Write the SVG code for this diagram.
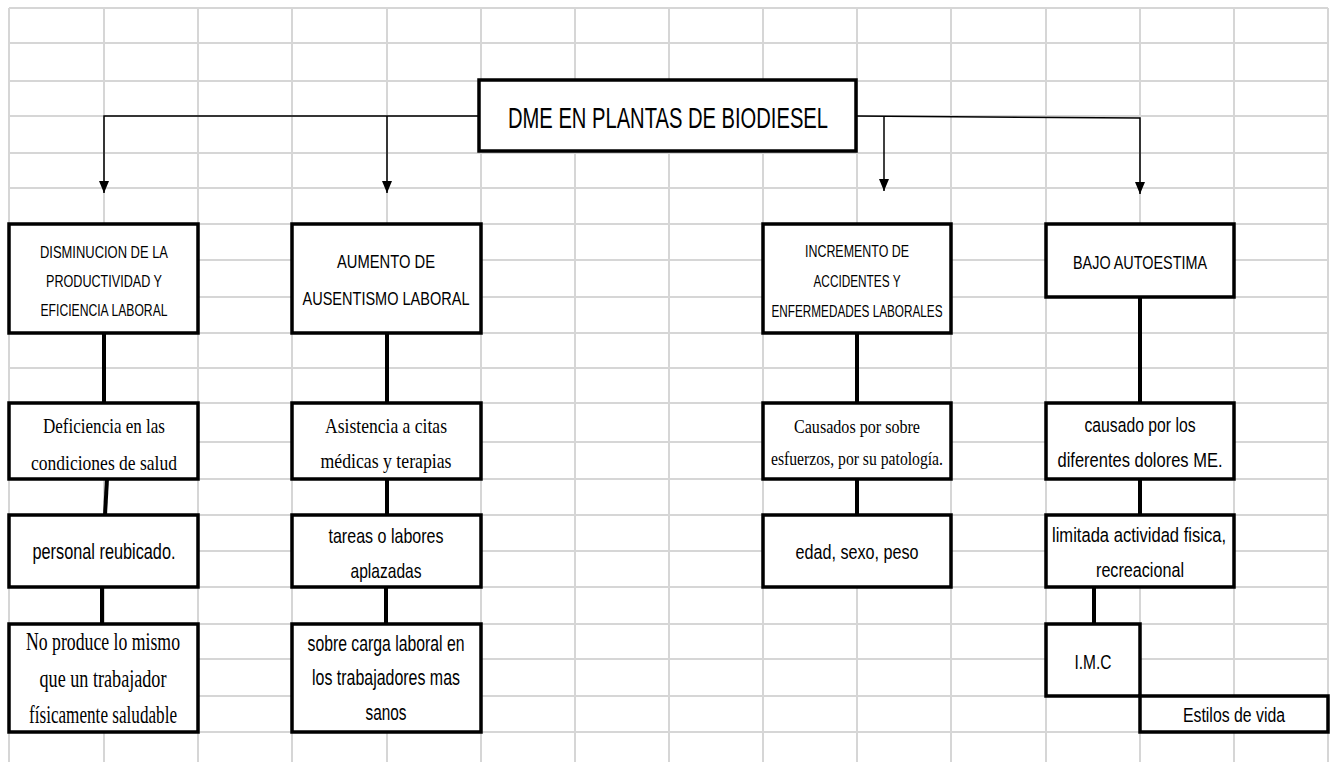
<svg xmlns="http://www.w3.org/2000/svg" width="1331" height="762" viewBox="0 0 1331 762">
<style>
.grid line{stroke:#d6d6d6;stroke-width:2}
.box{fill:#fff;stroke:#000;stroke-width:3.5}
.thin{fill:none;stroke:#000;stroke-width:1.5}
.thick{fill:none;stroke:#000;stroke-width:4}
text{fill:#000;text-anchor:middle}
.s{font-family:"Liberation Sans",Arial,sans-serif}
.t{font-family:"Liberation Serif","Times New Roman",serif}
</style>
<defs>
<marker id="arr" markerUnits="userSpaceOnUse" viewBox="0 0 10 12" refX="5" refY="12" markerWidth="10" markerHeight="12" orient="0">
<path d="M0,0 L10,0 L5,12 z" fill="#000"/>
</marker>
</defs>
<rect width="1331" height="762" fill="#fff"/>
<g class="grid">
<line x1="9" y1="8" x2="9" y2="762"/><line x1="104" y1="8" x2="104" y2="762"/><line x1="198" y1="8" x2="198" y2="762"/><line x1="292" y1="8" x2="292" y2="762"/><line x1="387" y1="8" x2="387" y2="762"/><line x1="481" y1="8" x2="481" y2="762"/><line x1="575" y1="8" x2="575" y2="762"/><line x1="669" y1="8" x2="669" y2="762"/><line x1="763" y1="8" x2="763" y2="762"/><line x1="857" y1="8" x2="857" y2="762"/><line x1="951" y1="8" x2="951" y2="762"/><line x1="1046" y1="8" x2="1046" y2="762"/><line x1="1140" y1="8" x2="1140" y2="762"/><line x1="1234" y1="8" x2="1234" y2="762"/><line x1="1328" y1="8" x2="1328" y2="762"/>
<line x1="9" y1="8" x2="1328" y2="8"/><line x1="9" y1="43" x2="1328" y2="43"/><line x1="9" y1="81" x2="1328" y2="81"/><line x1="9" y1="116" x2="1328" y2="116"/><line x1="9" y1="153" x2="1328" y2="153"/><line x1="9" y1="188" x2="1328" y2="188"/><line x1="9" y1="224" x2="1328" y2="224"/><line x1="9" y1="260" x2="1328" y2="260"/><line x1="9" y1="297" x2="1328" y2="297"/><line x1="9" y1="333" x2="1328" y2="333"/><line x1="9" y1="368" x2="1328" y2="368"/><line x1="9" y1="403" x2="1328" y2="403"/><line x1="9" y1="442" x2="1328" y2="442"/><line x1="9" y1="479" x2="1328" y2="479"/><line x1="9" y1="515" x2="1328" y2="515"/><line x1="9" y1="551" x2="1328" y2="551"/><line x1="9" y1="587" x2="1328" y2="587"/><line x1="9" y1="624" x2="1328" y2="624"/><line x1="9" y1="659" x2="1328" y2="659"/><line x1="9" y1="696" x2="1328" y2="696"/><line x1="9" y1="732" x2="1328" y2="732"/>
</g>
<g id="connectors">
<path class="thin" d="M479,116 H104 V193" marker-end="url(#arr)"/>
<path class="thin" d="M387,116 V193" marker-end="url(#arr)"/>
<path class="thin" d="M856,116 L1140,118 V194" marker-end="url(#arr)"/>
<path class="thin" d="M884,117 V191" marker-end="url(#arr)"/>
<path class="thick" d="M104,333 V403"/>
<path class="thick" d="M387,333 V403"/>
<path class="thick" d="M857,333 V403"/>
<path class="thick" d="M1140,297 V403"/>
<path class="thick" d="M107,479 L105,515"/>
<path class="thick" d="M387,479 V515"/>
<path class="thick" d="M857,479 V515"/>
<path class="thick" d="M1140,479 V515"/>
<path class="thick" d="M102,587 V624"/>
<path class="thick" d="M386,587 V624"/>
<path class="thick" d="M1094,587 V624"/>
</g>
<g id="n-title"><rect class="box" x="479" y="80" width="377" height="71"/>
<text class="s" x="668" y="128" font-size="29" textLength="320" lengthAdjust="spacingAndGlyphs">DME EN PLANTAS DE BIODIESEL</text></g>
<g id="n-disminucion"><rect class="box" x="9" y="224" width="189" height="109"/>
<text class="s" x="104" y="258" font-size="16.5" textLength="128" lengthAdjust="spacingAndGlyphs">DISMINUCION DE LA</text>
<text class="s" x="104" y="287" font-size="16.5" textLength="116" lengthAdjust="spacingAndGlyphs">PRODUCTIVIDAD Y</text>
<text class="s" x="104" y="316" font-size="16.5" textLength="127" lengthAdjust="spacingAndGlyphs">EFICIENCIA LABORAL</text></g>
<g id="n-aumento"><rect class="box" x="292" y="224" width="189" height="109"/>
<text class="s" x="386" y="268" font-size="18" textLength="98" lengthAdjust="spacingAndGlyphs">AUMENTO DE</text>
<text class="s" x="386" y="305" font-size="18" textLength="167" lengthAdjust="spacingAndGlyphs">AUSENTISMO LABORAL</text></g>
<g id="n-incremento"><rect class="box" x="763" y="224" width="188" height="109"/>
<text class="s" x="857" y="257" font-size="16" textLength="104" lengthAdjust="spacingAndGlyphs">INCREMENTO DE</text>
<text class="s" x="857" y="287" font-size="16" textLength="87" lengthAdjust="spacingAndGlyphs">ACCIDENTES Y</text>
<text class="s" x="857" y="317" font-size="16" textLength="171" lengthAdjust="spacingAndGlyphs">ENFERMEDADES LABORALES</text></g>
<g id="n-bajo"><rect class="box" x="1046" y="224" width="188" height="73"/>
<text class="s" x="1140" y="269" font-size="18.5" textLength="134" lengthAdjust="spacingAndGlyphs">BAJO AUTOESTIMA</text></g>
<g id="n-deficiencia"><rect class="box" x="9" y="403" width="189" height="76"/>
<text class="t" x="104" y="433" font-size="22" textLength="122" lengthAdjust="spacingAndGlyphs">Deficiencia en las</text>
<text class="t" x="104" y="470" font-size="22" textLength="146" lengthAdjust="spacingAndGlyphs">condiciones de salud</text></g>
<g id="n-asistencia"><rect class="box" x="292" y="403" width="189" height="76"/>
<text class="t" x="386" y="433" font-size="22" textLength="122" lengthAdjust="spacingAndGlyphs">Asistencia a citas</text>
<text class="t" x="386" y="468" font-size="22" textLength="131" lengthAdjust="spacingAndGlyphs">médicas y terapias</text></g>
<g id="n-causados"><rect class="box" x="763" y="403" width="188" height="76"/>
<text class="t" x="857" y="433" font-size="19.5" textLength="126" lengthAdjust="spacingAndGlyphs">Causados por sobre</text>
<text class="t" x="857" y="465" font-size="19.5" textLength="172" lengthAdjust="spacingAndGlyphs">esfuerzos, por su patología.</text></g>
<g id="n-causado"><rect class="box" x="1046" y="403" width="188" height="76"/>
<text class="s" x="1140" y="432" font-size="20.5" textLength="111" lengthAdjust="spacingAndGlyphs">causado por los</text>
<text class="s" x="1140" y="467" font-size="20.5" textLength="165" lengthAdjust="spacingAndGlyphs">diferentes dolores ME.</text></g>
<g id="n-personal"><rect class="box" x="9" y="515" width="189" height="72"/>
<text class="s" x="104" y="559" font-size="21.5" textLength="143" lengthAdjust="spacingAndGlyphs">personal reubicado.</text></g>
<g id="n-tareas"><rect class="box" x="292" y="515" width="189" height="72"/>
<text class="s" x="386" y="543" font-size="21" textLength="115" lengthAdjust="spacingAndGlyphs">tareas o labores</text>
<text class="s" x="386" y="578" font-size="21" textLength="71" lengthAdjust="spacingAndGlyphs">aplazadas</text></g>
<g id="n-edad"><rect class="box" x="763" y="515" width="188" height="72"/>
<text class="s" x="857" y="559" font-size="20.5" textLength="123" lengthAdjust="spacingAndGlyphs">edad, sexo, peso</text></g>
<g id="n-limitada"><rect class="box" x="1046" y="515" width="188" height="72"/>
<text class="s" x="1139" y="542" font-size="20.5" textLength="174" lengthAdjust="spacingAndGlyphs">limitada actividad fisica,</text>
<text class="s" x="1140" y="577" font-size="20.5" textLength="88" lengthAdjust="spacingAndGlyphs">recreacional</text></g>
<g id="n-noproduce"><rect class="box" x="9" y="624" width="189" height="108"/>
<text class="t" x="103" y="650" font-size="25.5" textLength="154" lengthAdjust="spacingAndGlyphs">No produce lo mismo</text>
<text class="t" x="103" y="687" font-size="25.5" textLength="127" lengthAdjust="spacingAndGlyphs">que un trabajador</text>
<text class="t" x="103" y="723" font-size="25.5" textLength="148" lengthAdjust="spacingAndGlyphs">físicamente saludable</text></g>
<g id="n-sobrecarga"><rect class="box" x="292" y="624" width="189" height="108"/>
<text class="s" x="386" y="651" font-size="21.5" textLength="157" lengthAdjust="spacingAndGlyphs">sobre carga laboral en</text>
<text class="s" x="386" y="685" font-size="21.5" textLength="148" lengthAdjust="spacingAndGlyphs">los trabajadores mas</text>
<text class="s" x="386" y="720" font-size="21.5" textLength="41" lengthAdjust="spacingAndGlyphs">sanos</text></g>
<g id="n-imc"><rect class="box" x="1046" y="624" width="94" height="72"/>
<text class="s" x="1093" y="669" font-size="20" textLength="37" lengthAdjust="spacingAndGlyphs">I.M.C</text></g>
<g id="n-estilos"><rect class="box" x="1140" y="696" width="188" height="36"/>
<text class="s" x="1234" y="722" font-size="20" textLength="102" lengthAdjust="spacingAndGlyphs">Estilos de vida</text></g>
</svg>
